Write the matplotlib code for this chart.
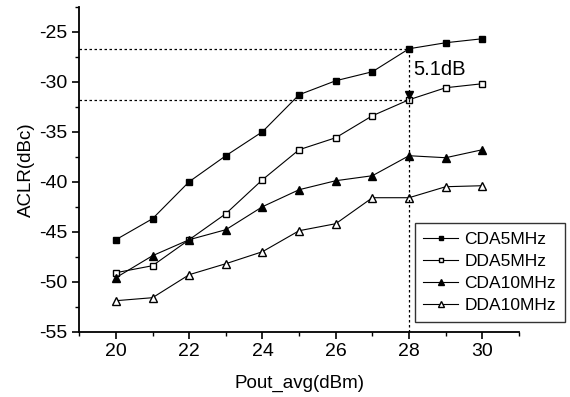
import matplotlib.pyplot as plt
import numpy as np

plt.rcParams['font.family'] = ['Liberation Sans', 'DejaVu Sans']
plt.rcParams['axes.unicode_minus'] = False

pout = [20, 21, 22, 23, 24, 25, 26, 27, 28, 29, 30]
cda5 = [-45.8, -43.7, -40.0, -37.4, -35.0, -31.3, -29.9, -29.0, -26.7, -26.1, -25.7]
dda5 = [-49.1, -48.4, -45.8, -43.2, -39.8, -36.8, -35.6, -33.4, -31.8, -30.6, -30.2]
cda10 = [-49.6, -47.4, -45.8, -44.8, -42.5, -40.8, -39.9, -39.4, -37.4, -37.6, -36.8]
dda10 = [-51.9, -51.6, -49.3, -48.2, -47.0, -44.9, -44.2, -41.6, -41.6, -40.5, -40.4]

# marked levels at Pout = 28 dBm
x_mark = 28
top_level = -26.7
low_level = -31.8

fig = plt.figure(figsize=(5.7, 3.97), dpi=100)
ax = fig.add_axes([0.139, 0.1645, 0.7715, 0.8185])

ax.plot(pout, cda5, '-s', color='k', lw=0.8, ms=4.3, mfc='k', label='CDA5MHz')
ax.plot(pout, dda5, '-s', color='k', lw=0.8, ms=4.3, mfc='w', label='DDA5MHz')
ax.plot(pout, cda10, '-^', color='k', lw=0.8, ms=5.5, mfc='k', label='CDA10MHz')
ax.plot(pout, dda10, '-^', color='k', lw=0.8, ms=5.5, mfc='w', label='DDA10MHz')

# dotted guide lines
ax.plot([19, x_mark], [top_level, top_level], color='k', lw=0.9, ls=(0, (2, 2)))
ax.plot([19, x_mark], [low_level, low_level], color='k', lw=0.9, ls=(0, (2, 2)))
ax.plot([x_mark, x_mark], [-55, top_level], color='k', lw=0.9, ls=(0, (2, 2)))
ax.plot([x_mark], [low_level + 0.5], 'v', color='k', ms=5.5)
ax.text(28.12, -28.8, '5.1dB', fontsize=14.5, va='center', ha='left')

ax.set_xlim(19, 31)
ax.set_ylim(-55, -22.5)
ax.set_xticks(np.arange(20, 31, 2))
ax.set_xticks(np.arange(19, 32, 1), minor=True)
ax.set_yticks(np.arange(-55, -24, 5))
ax.set_yticks(np.arange(-55, -22, 2.5), minor=True)
ax.spines['top'].set_visible(False)
ax.spines['right'].set_visible(False)
ax.spines['left'].set_linewidth(1.3)
ax.spines['bottom'].set_linewidth(1.3)
ax.tick_params(which='major', length=5, width=1.2, labelsize=14)
ax.tick_params(which='minor', length=3, width=1.0)

ax.set_xlabel('Pout_avg(dBm)', fontsize=13.5, labelpad=10)
ax.set_ylabel('ACLR(dBc)', fontsize=13.5, labelpad=3)

leg = ax.legend(loc='upper left', bbox_to_anchor=(0.763, 0.334), fontsize=12.5,
                frameon=True, fancybox=False, edgecolor='k', handlelength=2.0,
                labelspacing=0.4, borderpad=0.5, handletextpad=0.35, markerscale=0.8,
                borderaxespad=0)
leg.get_frame().set_linewidth(1.0)

fig.savefig('out.png', dpi=100)
